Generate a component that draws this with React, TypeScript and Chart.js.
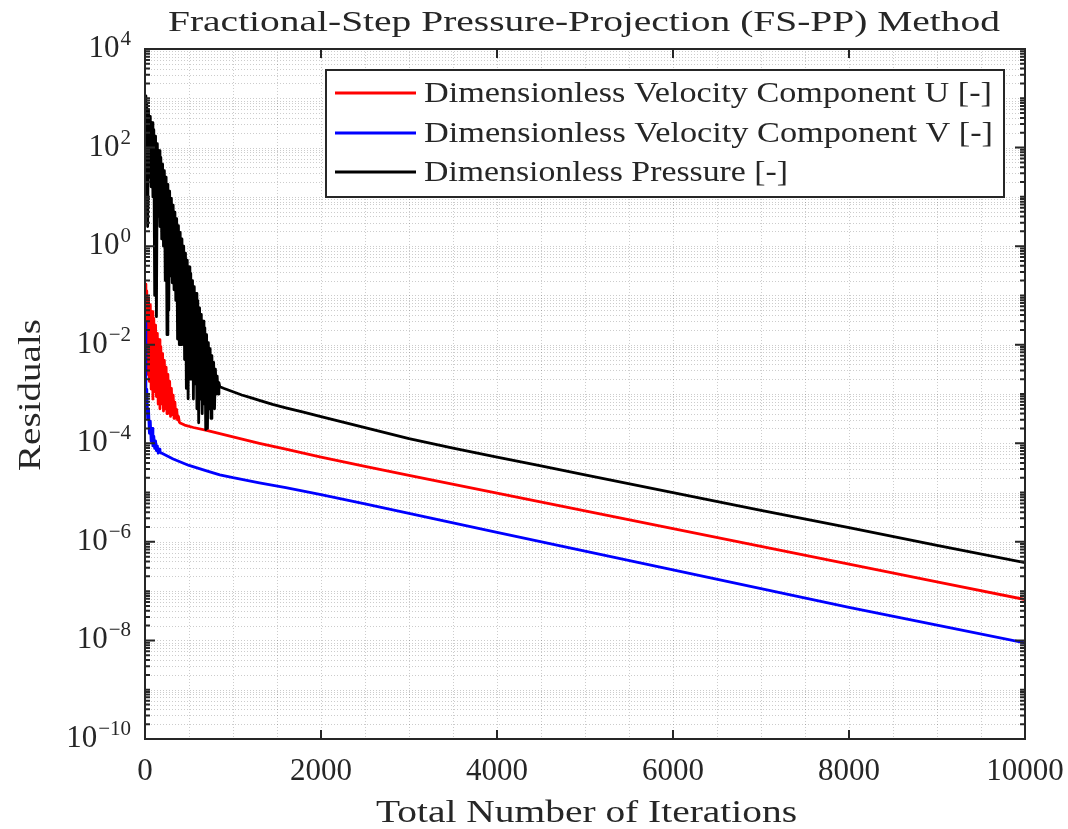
import React, { useEffect, useRef } from "react";
import { Chart, registerables } from "chart.js";

Chart.register(...registerables);

const TITLE = "Fractional-Step Pressure-Projection (FS-PP) Method";
const X_LABEL = "Total Number of Iterations";
const Y_LABEL = "Residuals";
const SERIES_LABELS = [
  "Dimensionless Velocity Component U [-]",
  "Dimensionless Velocity Component V [-]",
  "Dimensionless Pressure [-]",
];
const SERIES_COLORS = ["#ff0000", "#0000ff", "#000000"];

const X_TICKS = [0, 2000, 4000, 6000, 8000, 10000];
const X_GRID = [500, 1000, 1500, 2000, 2500, 3000, 3500, 4000, 4500, 5000, 5500, 6000, 6500, 7000, 7500, 8000, 8500, 9000, 9500];
const Y_TICK_EXPONENTS = [4, 2, 0, -2, -4, -6, -8, -10];
const Y_DECADES = [-10, -9, -8, -7, -6, -5, -4, -3, -2, -1, 0, 1, 2, 3];
const Y_MULTS = [1, 2, 3, 4, 5, 6, 7, 8, 9];

// Dimensionless velocity U residuals
const U_ITER = [0, 10, 20, 30, 40, 50, 60, 70, 80, 90, 100, 110, 120, 130, 140, 150, 160, 170, 180, 190, 200, 210, 220, 230, 240, 250, 260, 270, 280, 290, 300, 310, 320, 330, 340, 350, 360, 370, 380, 390, 400, 450, 550, 700, 1000, 1300, 1600, 2000, 2500, 3000, 4000, 5000, 6000, 7000, 8000, 9000, 10000];
const U_VALUES = [
  1.7e-1, 6.3e-3, 1.23e-1, 2.5e-3, 8.9e-2, 1.8e-3, 6.5e-2, 1.26e-3, 4.7e-2, 7.9e-4,
  3.4e-2, 1.12e-3, 2.5e-2, 8.9e-4, 1.7e-2, 6.3e-4, 1.26e-2, 5.0e-4, 9.1e-3, 6.3e-4,
  6.6e-3, 4.5e-4, 4.8e-3, 5.0e-4, 3.5e-3, 4.0e-4, 2.5e-3, 4.5e-4, 1.8e-3, 3.5e-4,
  1.3e-3, 3.8e-4, 9.5e-4, 3.2e-4, 6.8e-4, 3.3e-4, 4.9e-4, 3.0e-4, 3.5e-4, 2.7e-4,
  2.57e-4,
  2.34e-4, 2.09e-4, 1.82e-4, 1.35e-4, 1.0e-4, 7.59e-5, 5.25e-5, 3.39e-5, 2.24e-5, 9.77e-6, 4.27e-6, 1.86e-6, 8.13e-7, 3.55e-7, 1.55e-7, 6.76e-8,
];

// Dimensionless velocity V residuals
const V_ITER = [0, 10, 20, 30, 40, 50, 60, 70, 80, 90, 100, 110, 120, 130, 140, 150, 160, 170, 320, 500, 700, 850, 1000, 1300, 1600, 2000, 2500, 3000, 4000, 5000, 6000, 7000, 8000, 9000, 10000];
const V_VALUES = [
  2.75e-2, 7.9e-4, 1.26e-3, 3.2e-4, 5.0e-4, 1.6e-4, 2.8e-4, 1.12e-4, 2.0e-4, 8.9e-5,
  1.4e-4, 7.9e-5, 1.12e-4, 7.1e-5, 8.9e-5, 6.3e-5, 7.6e-5, 6.61e-5,
  4.79e-5, 3.55e-5, 2.75e-5, 2.29e-5, 2.0e-5, 1.58e-5, 1.26e-5, 9.12e-6, 5.89e-6, 3.8e-6, 1.55e-6, 6.46e-7, 2.69e-7, 1.12e-7, 4.68e-8, 2.04e-8, 8.91e-9,
];

// Dimensionless pressure residuals
const P_ITER = [0, 10, 20, 30, 40, 50, 60, 70, 80, 90, 100, 110, 120, 130, 140, 150, 160, 170, 180, 190, 200, 210, 220, 230, 240, 250, 260, 270, 280, 290, 300, 310, 320, 330, 340, 350, 360, 370, 380, 390, 400, 410, 420, 430, 440, 450, 460, 470, 480, 490, 500, 510, 520, 530, 540, 550, 560, 570, 580, 590, 600, 610, 620, 630, 640, 650, 660, 670, 680, 690, 700, 710, 720, 730, 740, 750, 760, 770, 780, 790, 800, 810, 820, 830, 840, 850, 900, 1000, 1100, 1200, 1300, 1450, 1600, 1800, 2000, 2500, 3000, 3500, 4000, 4500, 5000, 6000, 7000, 8000, 9000, 10000];
const P_VALUES = [
  1.12e3, 2.5e2, 8.1e2, 2.5e0, 5.9e2, 2.5e1, 4.3e2, 1.6e1, 3.2e2, 1.0e1,
  2.3e2, 1.0e-1, 1.7e2, 3.7e-2, 1.2e2, 4.0e0, 8.7e1, 2.5e0, 6.3e1, 1.4e0,
  4.6e1, 1.0e0, 3.4e1, 2.0e-1, 2.5e1, 1.6e-2, 1.8e1, 5.0e-2, 1.3e1, 2.5e-1,
  9.3e0, 1.8e-1, 6.8e0, 1.3e-1, 4.9e0, 7.9e-2, 3.6e0, 1.3e-2, 2.6e0, 1.0e-2,
  1.9e0, 1.0e-2, 1.4e0, 1.6e-2, 1.0e0, 5.0e-3, 7.2e-1, 1.3e-3, 5.2e-1, 8.0e-4,
  3.8e-1, 2.0e-3, 2.8e-1, 2.0e-3, 2.0e-1, 7.9e-4, 1.5e-1, 1.6e-3, 1.1e-1, 5.0e-4,
  7.8e-2, 2.6e-4, 5.6e-2, 7.9e-4, 4.1e-2, 4.0e-4, 3.0e-2, 6.3e-4, 2.2e-2, 1.9e-4,
  1.6e-2, 2.0e-4, 1.1e-2, 5.0e-4, 8.3e-3, 3.2e-4, 6.0e-3, 6.3e-4, 4.4e-3, 5.0e-4,
  3.2e-3, 1.0e-3, 2.3e-3, 1.0e-3, 1.7e-3, 1.4e-3,
  1.29e-3, 1.11e-3, 9.55e-4, 8.41e-4, 7.41e-4, 6.17e-4, 5.25e-4, 4.27e-4, 3.47e-4, 2.07e-4,
  1.24e-4, 7.94e-5, 5.25e-5, 3.47e-5, 2.29e-5, 1.0e-5, 4.37e-6, 1.95e-6, 8.51e-7, 3.8e-7,
];

const TEXT_COLOR = "#262626";
const SERIF = '"Liberation Serif", "Times New Roman", serif';
const LINE_WIDTH = 2.8;

function fitText(
  ctx: CanvasRenderingContext2D,
  text: string,
  x: number,
  y: number,
  size: number,
  targetW: number,
  align: CanvasTextAlign,
  baseline: CanvasTextBaseline = "alphabetic"
) {
  ctx.font = `${size}px ${SERIF}`;
  const w = ctx.measureText(text).width;
  const sx = w > 0 ? targetW / w : 1;
  ctx.save();
  ctx.translate(x, y);
  ctx.scale(sx, 1);
  ctx.textAlign = align;
  ctx.textBaseline = baseline;
  ctx.fillStyle = TEXT_COLOR;
  ctx.fillText(text, 0, 0);
  ctx.restore();
}

const matlabPlugin = {
  id: "matlabAxes",
  beforeDatasetsDraw(chart: any) {
    const { ctx, chartArea } = chart;
    const xs = chart.scales.x;
    const ys = chart.scales.y;
    ctx.save();
    ctx.beginPath();
    ctx.rect(chartArea.left, chartArea.top, chartArea.right - chartArea.left, chartArea.bottom - chartArea.top);
    ctx.clip();
    ctx.strokeStyle = "rgba(40,40,40,0.24)";
    ctx.lineWidth = 1;
    ctx.setLineDash([1, 2]);
    for (const v of X_GRID) {
      const px = Math.round(xs.getPixelForValue(v)) + 0.5;
      ctx.beginPath();
      ctx.moveTo(px, chartArea.top);
      ctx.lineTo(px, chartArea.bottom);
      ctx.stroke();
    }
    for (const k of Y_DECADES) {
      for (const m of Y_MULTS) {
        const v = m * Math.pow(10, k);
        const py = Math.round(ys.getPixelForValue(v)) + 0.5;
        if (py <= chartArea.top + 1 || py >= chartArea.bottom - 1) continue;
        ctx.beginPath();
        ctx.moveTo(chartArea.left, py);
        ctx.lineTo(chartArea.right, py);
        ctx.stroke();
      }
    }
    ctx.restore();
  },
  afterDatasetsDraw(chart: any) {
    const { ctx, chartArea } = chart;
    const xs = chart.scales.x;
    const ys = chart.scales.y;
    const { left, right, top, bottom } = chartArea;
    ctx.save();
    ctx.setLineDash([]);
    ctx.strokeStyle = TEXT_COLOR;
    ctx.lineWidth = 2;
    ctx.lineCap = "butt";

    // y ticks (left and right)
    for (const k of Y_DECADES.concat([4])) {
      for (const m of Y_MULTS) {
        const v = m * Math.pow(10, k);
        if (v > 1e4 * 1.0001) continue;
        const py = ys.getPixelForValue(v);
        const major = m === 1 && Y_TICK_EXPONENTS.indexOf(k) >= 0;
        const len = major ? 10 : 5;
        ctx.beginPath();
        ctx.moveTo(left, py);
        ctx.lineTo(left + len, py);
        ctx.moveTo(right, py);
        ctx.lineTo(right - len, py);
        ctx.stroke();
      }
    }
    // x ticks (bottom and top)
    for (const v of X_TICKS) {
      const px = xs.getPixelForValue(v);
      ctx.beginPath();
      ctx.moveTo(px, bottom);
      ctx.lineTo(px, bottom - 9);
      ctx.moveTo(px, top);
      ctx.lineTo(px, top + 9);
      ctx.stroke();
    }
    // frame
    ctx.strokeRect(left, top, right - left, bottom - top);

    // x tick labels
    ctx.fillStyle = TEXT_COLOR;
    ctx.font = `31px ${SERIF}`;
    ctx.textAlign = "center";
    ctx.textBaseline = "alphabetic";
    for (const v of X_TICKS) {
      ctx.fillText(String(v), xs.getPixelForValue(v), 780);
    }
    // y tick labels 10^k
    for (const e of Y_TICK_EXPONENTS) {
      const py = ys.getPixelForValue(Math.pow(10, e));
      const sup = e < 0 ? "\u2212" + Math.abs(e) : String(e);
      ctx.font = `21px ${SERIF}`;
      ctx.textAlign = "right";
      const supW = ctx.measureText(sup).width;
      ctx.fillText(sup, 131, py - 4);
      ctx.font = `31px ${SERIF}`;
      ctx.fillText("10", 131 - supW - 1, py + 8);
    }

    // title & axis labels
    fitText(ctx, TITLE, (168 + 1000) / 2, 31, 30, 832, "center");
    fitText(ctx, X_LABEL, (376 + 797) / 2, 822, 31, 421, "center");
    ctx.save();
    ctx.translate(40, 395);
    ctx.rotate(-Math.PI / 2);
    fitText(ctx, Y_LABEL, 0, 0, 31, 152, "center");
    ctx.restore();

    // legend
    const bx = 326, by = 70, bw = 1004 - 326, bh = 197 - 70;
    ctx.fillStyle = "#ffffff";
    ctx.fillRect(bx, by, bw, bh);
    ctx.strokeStyle = TEXT_COLOR;
    ctx.lineWidth = 2;
    ctx.strokeRect(bx, by, bw, bh);
    const rows = [93, 133, 172];
    const widths = [568, 569, 364];
    chart.data.datasets.forEach((ds: any, i: number) => {
      const ry = rows[i];
      ctx.strokeStyle = ds.borderColor;
      ctx.lineWidth = LINE_WIDTH;
      ctx.beginPath();
      ctx.moveTo(335, ry);
      ctx.lineTo(416, ry);
      ctx.stroke();
      fitText(ctx, ds.label, 424, ry + 1, 30, widths[i], "left", "middle");
    });
    ctx.restore();
  },
};

export default function App() {
  const ref = useRef<HTMLCanvasElement | null>(null);
  useEffect(() => {
    if (!ref.current) return;
    const mk = (iters: number[], vals: number[]) => iters.map((x, i) => ({ x, y: vals[i] }));
    const common = { borderWidth: LINE_WIDTH, pointRadius: 0, tension: 0, borderJoinStyle: "round", borderCapStyle: "round", fill: false };
    const chart = new Chart(ref.current, {
      type: "line",
      data: {
        datasets: [
          { label: SERIES_LABELS[0], data: mk(U_ITER, U_VALUES), borderColor: SERIES_COLORS[0], order: 3, ...common },
          { label: SERIES_LABELS[1], data: mk(V_ITER, V_VALUES), borderColor: SERIES_COLORS[1], order: 2, ...common },
          { label: SERIES_LABELS[2], data: mk(P_ITER, P_VALUES), borderColor: SERIES_COLORS[2], order: 1, ...common },
        ] as any,
      },
      options: {
        responsive: false,
        animation: false,
        devicePixelRatio: 1,
        events: [],
        layout: { padding: { left: 145, right: 43, top: 49, bottom: 90 } },
        plugins: { legend: { display: false }, title: { display: false }, tooltip: { enabled: false } },
        scales: {
          x: { type: "linear", min: 0, max: 10000, display: false },
          y: { type: "logarithmic", min: 1e-10, max: 1e4, display: false },
        },
      } as any,
      plugins: [matlabPlugin],
    });
    return () => chart.destroy();
  }, []);
  return (
    <div style={{ position: "absolute", left: 0, top: 0, width: 1068, height: 829, background: "#ffffff" }}>
      <canvas ref={ref} width={1068} height={829} style={{ display: "block" }} />
    </div>
  );
}
